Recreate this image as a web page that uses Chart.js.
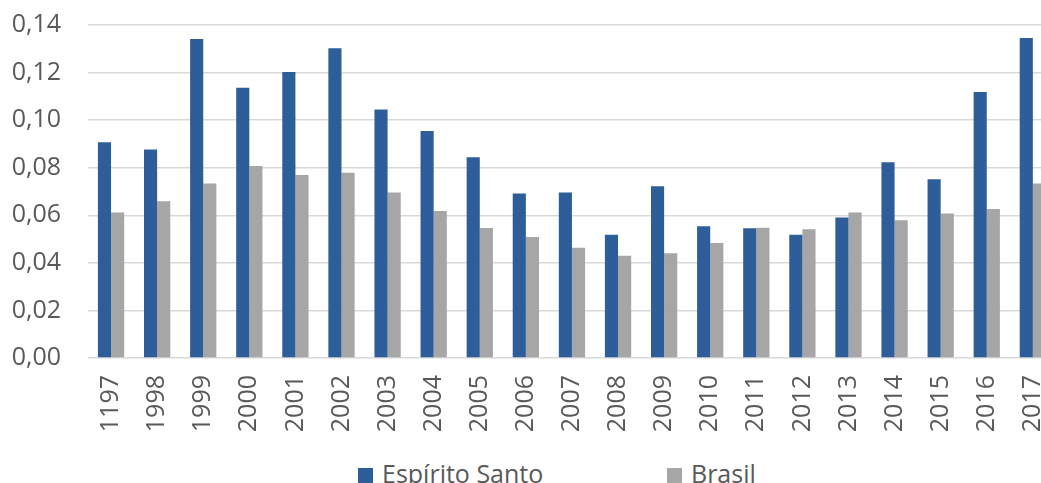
<!DOCTYPE html>
<html>
<head>
<meta charset="utf-8">
<script src="https://cdn.jsdelivr.net/npm/chart.js@4"></script>
<style>
  html, body { margin:0; padding:0; background:#fff; overflow:hidden; width:1041px; height:483px; }
  #wrap { position:absolute; left:0; top:-17px; width:1080px; height:457px; }
  #legend { position:absolute; top:456px; left:0; width:1041px; height:27px; font-family:"Open Sans", sans-serif; font-size:25px; color:#595959; }
  .item { position:absolute; top:0; display:flex; align-items:center; white-space:nowrap; line-height:34px; }
  .box { width:15px; height:15px; margin-right:9px; margin-top:4px; }
</style>
</head>
<body>
<div id="wrap"><canvas id="c" width="1080" height="457"></canvas></div>
<div id="legend"></div>
<script>
const categories = ["1197","1998","1999","2000","2001","2002","2003","2004","2005","2006","2007","2008","2009","2010","2011","2012","2013","2014","2015","2016","2017"];
const espiritoSanto = [0.0907,0.0877,0.1341,0.1136,0.1202,0.1302,0.1045,0.0954,0.0844,0.0692,0.0696,0.0518,0.0722,0.0554,0.0545,0.0518,0.0591,0.0823,0.0751,0.1118,0.1345];
const brasil = [0.0612,0.0659,0.0734,0.0807,0.0769,0.0779,0.0696,0.0618,0.0547,0.0509,0.0464,0.0430,0.0440,0.0483,0.0548,0.0541,0.0612,0.0579,0.0607,0.0626,0.0734];
const seriesNames = ["Espírito Santo","Brasil"];
const colors = ["#2E5E99","#A6A6A6"];

const font = { family: "'Open Sans', sans-serif", size: 25 };
new Chart(document.getElementById('c'), {
  type: 'bar',
  data: {
    labels: categories,
    datasets: [
      { label: seriesNames[0], data: espiritoSanto, backgroundColor: colors[0], borderWidth: 0 },
      { label: seriesNames[1], data: brasil, backgroundColor: colors[1], borderWidth: 0 }
    ]
  },
  options: {
    responsive: false,
    animation: false,
    devicePixelRatio: 1,
    layout: { padding: { top: 11, right: 6, left: 0, bottom: 0 } },
    plugins: { legend: { display: false }, tooltip: { enabled: false } },
    datasets: { bar: { categoryPercentage: 0.57, barPercentage: 1.0 } },
    scales: {
      x: {
        grid: { display: false, drawTicks: false },
        border: { display: false },
        ticks: { font: font, color: '#595959', minRotation: 90, maxRotation: 90, padding: 17, autoSkip: false },
        afterFit: (s) => { s.height = 82; }
      },
      y: {
        min: 0, max: 0.14,
        grid: { color: '#D9D9D9', lineWidth: 1.5, drawTicks: false },
        border: { display: false },
        ticks: {
          stepSize: 0.02, font: font, color: '#595959', padding: 27,
          callback: (v) => v.toFixed(2).replace('.', ',')
        },
        afterFit: (s) => { s.width = 88; }
      }
    }
  }
});

const legendPos = [358, 667];
const lg = document.getElementById('legend');
seriesNames.forEach((n, i) => {
  const d = document.createElement('div');
  d.className = 'item';
  d.style.left = legendPos[i] + 'px';
  d.innerHTML = '<span class="box" style="background:' + colors[i] + '"></span><span>' + n + '</span>';
  lg.appendChild(d);
});
</script>
</body>
</html>
